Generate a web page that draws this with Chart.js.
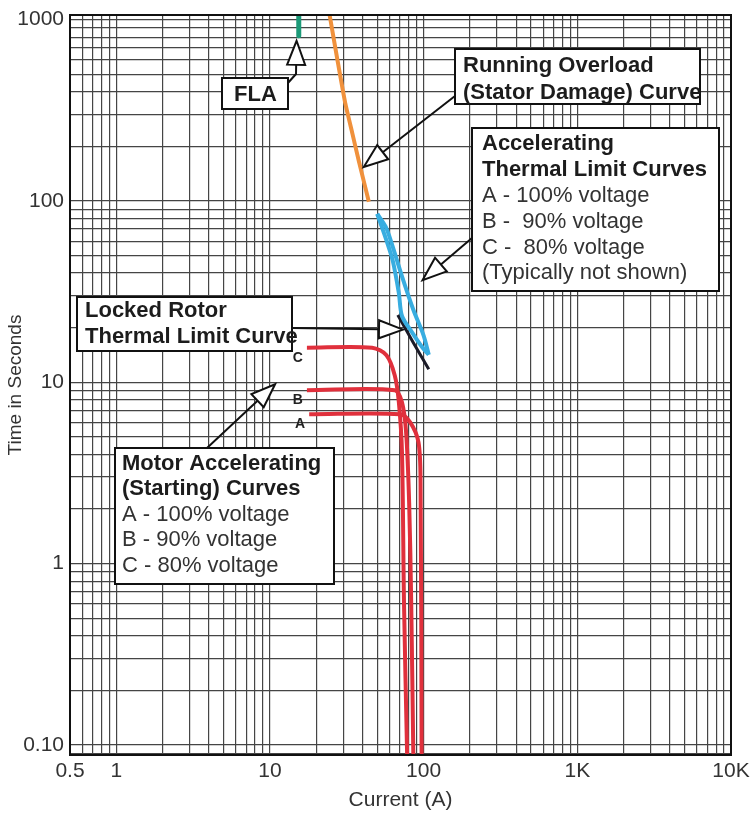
<!DOCTYPE html>
<html>
<head>
<meta charset="utf-8">
<script src="https://cdn.jsdelivr.net/npm/chart.js@4.4.1/dist/chart.umd.min.js"></script>
<style>
  html, body { margin: 0; padding: 0; background: #fff; }
</style>
</head>
<body>
<canvas id="tccChart" width="750" height="817"></canvas>
<script>
// Axis tick labels
const xTickValues = [0.5, 1, 10, 100, 1000, 10000];
const xTickLabels = ['0.5', '1', '10', '100', '1K', '10K'];
const yTickValues = [0.1, 1, 10, 100, 1000];
const yTickLabels = ['0.10', '1', '10', '100', '1000'];

// FLA marker (current in A, time in s)
const flaCurrent = [15.4, 15.4];
const flaTime = [1050, 815];

// Running overload (stator damage) curve
const overloadCurrent = [24.5, 27.7, 30.9, 34.4, 37.8, 44.0];
const overloadTime = [1050, 577, 346, 235, 167, 99];

// Accelerating thermal limit curves
const accelLimitACurrent = [49.9, 58.2, 62.9, 69.0, 72.3, 84.3, 98.5, 108];
const accelLimitATime = [84.9, 58.2, 47.0, 31.0, 23.2, 18.8, 15.5, 14.2];
const accelLimitBCurrent = [49.9, 56.6, 62.0, 72.3, 85.7, 100, 108];
const accelLimitBTime = [84.9, 72.1, 58.2, 38.4, 25.1, 18.1, 14.2];

// Locked rotor thermal limit
const lockedRotorCurrent = [67.9, 85.7, 108];
const lockedRotorTime = [23.5, 16.5, 11.8];

// Motor starting curves A/B/C
const startACurrent = [18.0, 70.1, 81.8, 92.6, 95.5, 97.0];
const startATime = [6.66, 6.66, 6.01, 4.66, 2.80, 0.088];
const startBCurrent = [17.4, 64.9, 72.3, 76.9, 80.5, 83.0, 85.7];
const startBTime = [9.04, 9.04, 7.75, 5.30, 2.17, 0.614, 0.088];
const startCCurrent = [17.4, 46.2, 57.3, 64.9, 69.0, 72.3, 74.5, 78.1];
const startCTime = [15.5, 15.5, 14.1, 10.9, 7.75, 4.10, 0.614, 0.088];

const FONT = "'Liberation Sans', Arial, sans-serif";

// 1..9 per decade grid
function decadeGrid(min, max) {
    const vals = [];
    for (let e = Math.floor(Math.log10(min)); e <= Math.ceil(Math.log10(max)); e++) {
        for (let m = 1; m <= 9; m++) {
            const v = +(m * Math.pow(10, e)).toPrecision(6);
            if (v >= min && v <= max) vals.push(v);
        }
    }
    return vals;
}

function labelFor(value, values, labels) {
    const i = values.findIndex(v => Math.abs(Math.log10(v / value)) < 1e-6);
    return i >= 0 ? labels[i] : '';
}

const makeSet = (label, xs, ys, color, width, tension) => ({
    label: label,
    data: xs.map((x, i) => ({ x: x, y: ys[i] })),
    borderColor: color,
    borderWidth: width,
    pointRadius: 0,
    fill: false,
    tension: tension,
    borderCapStyle: 'butt',
    borderJoinStyle: 'round',
});

// Text boxes (pixel layout) and arrows (tips in data units)
const textBoxes = [
    { left: 222, top: 78, right: 288, bottom: 109, textX: 234, lines: [['FLA', true, 101]] },
    { left: 455, top: 49, right: 700, bottom: 104, textX: 463, lines: [
        ['Running Overload', true, 72], ['(Stator Damage) Curve', true, 99]] },
    { left: 472, top: 128, right: 719, bottom: 291, textX: 482, lines: [
        ['Accelerating', true, 150], ['Thermal Limit Curves', true, 176],
        ['A - 100% voltage', false, 202], ['B -  90% voltage', false, 228],
        ['C -  80% voltage', false, 254], ['(Typically not shown)', false, 279]] },
    { left: 77, top: 297, right: 292, bottom: 351, textX: 85, lines: [
        ['Locked Rotor', true, 317], ['Thermal Limit Curve', true, 343]] },
    { left: 115, top: 448, right: 334, bottom: 584, textX: 122, lines: [
        ['Motor Accelerating', true, 470], ['(Starting) Curves', true, 495],
        ['A - 100% voltage', false, 521], ['B - 90% voltage', false, 546],
        ['C - 80% voltage', false, 572]] },
];

const arrows = [
    { path: [[287, 84], [296, 74]], tip: [14.9, 764] },
    { path: [[455, 96]], tip: [40.8, 154] },
    { path: [[472, 238]], tip: [98.5, 36.6] },
    { path: [[292, 328]], tip: [73.4, 19.5] },
    { path: [[207, 448]], tip: [10.8, 9.75] },
];

function drawArrow(ctx, pts) {
    const tip = pts[pts.length - 1];
    const prev = pts[pts.length - 2];
    const dx = tip[0] - prev[0], dy = tip[1] - prev[1];
    const len = Math.hypot(dx, dy);
    const ux = dx / len, uy = dy / len;
    const headLen = 24, half = 9;
    const bx = tip[0] - ux * headLen, by = tip[1] - uy * headLen;
    ctx.beginPath();
    ctx.moveTo(pts[0][0], pts[0][1]);
    for (let i = 1; i < pts.length - 1; i++) ctx.lineTo(pts[i][0], pts[i][1]);
    ctx.lineTo(bx, by);
    ctx.stroke();
    ctx.beginPath();
    ctx.moveTo(tip[0], tip[1]);
    ctx.lineTo(bx - uy * half, by + ux * half);
    ctx.lineTo(bx + uy * half, by - ux * half);
    ctx.closePath();
    ctx.fillStyle = '#fff';
    ctx.fill();
    ctx.stroke();
}

const overlayPlugin = {
    id: 'overlay',
    afterDatasetsDraw(chart) {
        const { ctx, chartArea, scales } = chart;
        const xs = scales.x, ys = scales.y;
        ctx.save();

        // plot frame
        ctx.strokeStyle = '#111';
        ctx.lineWidth = 2;
        ctx.strokeRect(chartArea.left, chartArea.top, chartArea.right - chartArea.left, chartArea.bottom - chartArea.top);

        // curve letters next to the starting curves
        ctx.fillStyle = '#222';
        ctx.font = 'bold 14px ' + FONT;
        ctx.textAlign = 'center';
        ctx.textBaseline = 'middle';
        [['C', startCCurrent, startCTime], ['B', startBCurrent, startBTime], ['A', startACurrent, startATime]].forEach(([t, cx, cy]) => {
            ctx.fillText(t, xs.getPixelForValue(cx[0]) - 9, ys.getPixelForValue(cy[0]) + 10);
        });

        // arrows
        ctx.strokeStyle = '#111';
        ctx.lineWidth = 2;
        arrows.forEach(a => {
            const tipPx = [xs.getPixelForValue(a.tip[0]), ys.getPixelForValue(a.tip[1])];
            drawArrow(ctx, a.path.concat([tipPx]));
        });

        // boxes
        ctx.textAlign = 'left';
        ctx.textBaseline = 'alphabetic';
        textBoxes.forEach(b => {
            ctx.fillStyle = '#fff';
            ctx.fillRect(b.left, b.top, b.right - b.left, b.bottom - b.top);
            ctx.strokeStyle = '#111';
            ctx.lineWidth = 2;
            ctx.strokeRect(b.left, b.top, b.right - b.left, b.bottom - b.top);
            b.lines.forEach(([text, bold, base]) => {
                ctx.fillStyle = bold ? '#1c1c1c' : '#333';
                ctx.font = (bold ? 'bold ' : '') + '22px ' + FONT;
                ctx.fillText(text, b.textX, base);
            });
        });
        ctx.restore();
    },
};

const ctx = document.getElementById('tccChart').getContext('2d');
new Chart(ctx, {
    type: 'line',
    data: {
        datasets: [
            makeSet('Start C', startCCurrent, startCTime, '#e0303c', 4, 0.3),
            makeSet('Start B', startBCurrent, startBTime, '#e0303c', 4, 0.3),
            makeSet('Start A', startACurrent, startATime, '#e0303c', 4, 0.3),
            makeSet('Accel limit A', accelLimitACurrent, accelLimitATime, '#38ade0', 4, 0.3),
            makeSet('Accel limit B', accelLimitBCurrent, accelLimitBTime, '#38ade0', 4, 0.3),
            makeSet('Locked rotor', lockedRotorCurrent, lockedRotorTime, '#1b1b28', 3, 0),
            makeSet('Running overload', overloadCurrent, overloadTime, '#f0913c', 4, 0.15),
            makeSet('FLA', flaCurrent, flaTime, '#1c9a78', 5, 0),
        ],
    },
    options: {
        responsive: false,
        animation: false,
        devicePixelRatio: 1,
        layout: { padding: { top: 15, right: 19, left: 0, bottom: 0 } },
        plugins: { legend: { display: false }, tooltip: { enabled: false } },
        scales: {
            x: {
                type: 'logarithmic',
                min: 0.5,
                max: 10000,
                afterBuildTicks: (scale) => { scale.ticks = decadeGrid(0.5, 10000).map(v => ({ value: v })); },
                afterFit: (scale) => { scale.height = 62; scale.paddingLeft = 0; scale.paddingRight = 0; },
                grid: { color: '#454545', lineWidth: 1.2, drawTicks: false },
                border: { display: true, color: '#111', width: 2 },
                ticks: {
                    autoSkip: false, maxRotation: 0, padding: 4, color: '#333',
                    font: { family: FONT, size: 21 },
                    callback: (v) => labelFor(v, xTickValues, xTickLabels),
                },
                title: { display: true, text: 'Current (A)', color: '#333', font: { family: FONT, size: 21 }, padding: { top: 0, bottom: 4 } },
            },
            y: {
                type: 'logarithmic',
                min: 0.088,
                max: 1060,
                afterBuildTicks: (scale) => { scale.ticks = decadeGrid(0.088, 1060).map(v => ({ value: v })); },
                afterFit: (scale) => { scale.width = 70; scale.paddingTop = 0; scale.paddingBottom = 0; },
                grid: { color: '#454545', lineWidth: 1.2, drawTicks: false },
                border: { display: true, color: '#111', width: 2 },
                ticks: {
                    autoSkip: false, padding: 6, color: '#333',
                    font: { family: FONT, size: 21 },
                    callback: (v) => labelFor(v, yTickValues, yTickLabels),
                },
                title: { display: true, text: 'Time in Seconds', color: '#333', font: { family: FONT, size: 19 }, padding: { top: 4, bottom: 0 } },
            },
        },
    },
    plugins: [overlayPlugin],
});
</script>
</body>
</html>
